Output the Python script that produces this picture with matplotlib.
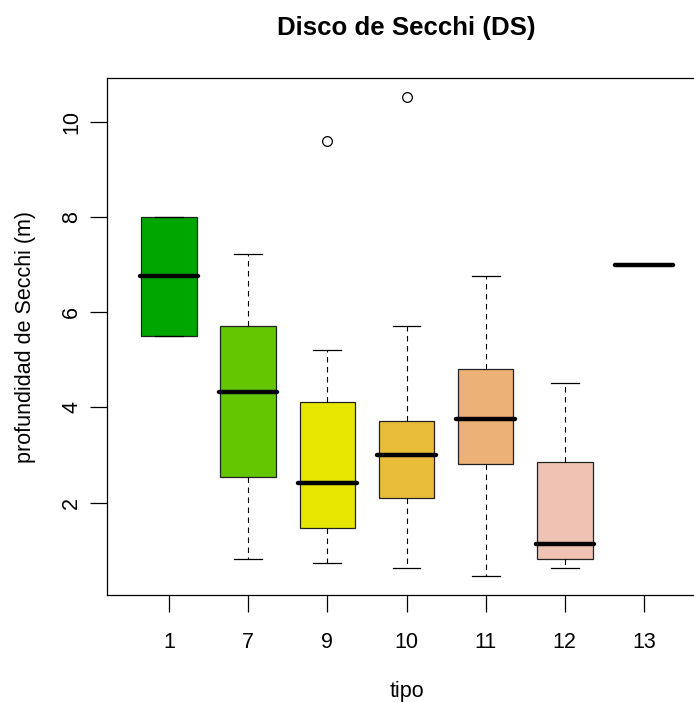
import matplotlib
matplotlib.use('Agg')
import matplotlib.pyplot as plt

plt.rcParams['font.family'] = ['Liberation Sans', 'DejaVu Sans']

# box statistics (depth of Secchi disk, m)
tipos = ['1', '7', '9', '10', '11', '12', '13']
whislo = [5.50, 0.82, 0.72, 0.63, 0.46, 0.63, 7.00]
q1 = [5.50, 2.53, 1.46, 2.09, 2.81, 0.82, 7.00]
med = [6.76, 4.33, 2.41, 3.00, 3.75, 1.12, 7.00]
q3 = [8.00, 5.70, 4.12, 3.72, 4.81, 2.85, 7.00]
whishi = [8.00, 7.22, 5.21, 5.70, 6.76, 4.52, 7.00]
outliers = [[], [], [9.59], [10.51], [], [], []]
colores = ['#00A600', '#63C600', '#E6E600', '#E9BD3A', '#ECB176', '#EFC2B3', '#F2F2F2']

stats = []
for i in range(len(tipos)):
    stats.append({'label': tipos[i], 'whislo': whislo[i], 'q1': q1[i], 'med': med[i],
                  'q3': q3[i], 'whishi': whishi[i], 'fliers': outliers[i]})

W, H = 694, 702
fig = plt.figure(figsize=(W / 100, H / 100), dpi=100)
left, right, top, bottom = 107.3, 705.7, 78.3, 595.0
ax = fig.add_axes([left / W, 1 - bottom / H, (right - left) / W, (bottom - top) / H])

bp = ax.bxp(stats, positions=range(1, len(tipos) + 1), widths=0.7, patch_artist=True,
            boxprops=dict(linewidth=0.9, edgecolor='#222222'),
            whiskerprops=dict(linewidth=0.8, linestyle=(0, (5, 4)), color='black'),
            capprops=dict(linewidth=0.9, color='black'),
            medianprops=dict(linewidth=3.2, color='black', solid_capstyle='round'),
            flierprops=dict(marker='o', markersize=7, markerfacecolor='none',
                            markeredgecolor='black', markeredgewidth=0.9),
            capwidths=0.35)
for patch, c in zip(bp['boxes'], colores):
    patch.set_facecolor(c)
# last group has a single value: only the median line shows
bp['boxes'][-1].set_visible(False)
bp['caps'][-1].set_visible(False)
bp['caps'][-2].set_visible(False)
bp['whiskers'][-1].set_visible(False)
bp['whiskers'][-2].set_visible(False)
for line in bp['medians']:
    xd = line.get_xdata()
    line.set_xdata([xd[0] - 0.02, xd[1] + 0.02])

all_vals = whislo + whishi + [v for o in outliers for v in o]
lo, hi = min(all_vals), max(all_vals)
pad = 0.04 * (hi - lo)
ax.set_ylim(lo - pad, hi + pad)
n = len(tipos)
ax.set_xlim(0.5 - 0.04 * n, n + 0.5 + 0.04 * n)

ax.set_yticks([2, 4, 6, 8, 10])
ax.set_xticks(range(1, n + 1))
ax.set_xticklabels(tipos)
ax.tick_params(axis='both', length=12, width=0.9, labelsize=15.5)
ax.tick_params(axis='x', pad=15)
ax.tick_params(axis='y', pad=6)
for lab in ax.get_yticklabels():
    lab.set_rotation(90)
    lab.set_va('center')
for s in ax.spines.values():
    s.set_linewidth(0.9)

ax.set_title('Disco de Secchi (DS)', fontsize=18.6, fontweight='bold', pad=31)
ax.set_xlabel('tipo', fontsize=15.5, labelpad=20)
ax.set_ylabel('profundidad de Secchi (m)', fontsize=15.5, labelpad=18)

fig.savefig('out.png', dpi=100)
